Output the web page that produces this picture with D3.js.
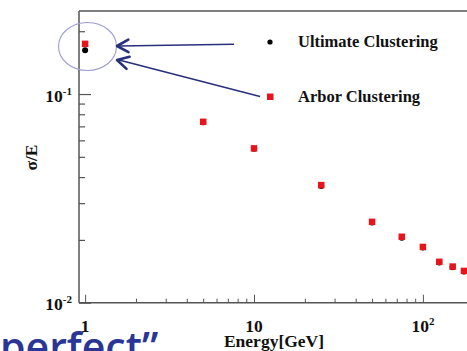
<!DOCTYPE html>
<html>
<head>
<meta charset="utf-8">
<script src="https://cdn.jsdelivr.net/npm/d3@7"></script>
<style>
  html, body { margin: 0; padding: 0; background: #fff; overflow: hidden; }
  svg { display: block; }
  .serif { font-family: "Liberation Serif", "Times New Roman", serif; font-weight: bold; fill: #111; }
</style>
</head>
<body>
<div id="chart"></div>
<script>
// energias do feixe (GeV) e resolução sigma/E
const energias = [1, 5, 10, 25, 50, 75, 100, 125, 150, 175];
const arborValores = [0.174, 0.0736, 0.0549, 0.0366, 0.0244, 0.0207, 0.0185, 0.0157, 0.0149, 0.0142];
const ultimateValores = [0.162, 0.0732, 0.0546, 0.0362, 0.0242, 0.0205, 0.0184, 0.0156, 0.0148, 0.0141];

const xMajor = [1, 10, 100];
const xMinor = [2, 3, 4, 5, 6, 7, 8, 9, 20, 30, 40, 50, 60, 70, 80, 90, 200];
const yMajor = [0.01, 0.1];
const yMinor = [0.02, 0.03, 0.04, 0.05, 0.06, 0.07, 0.08, 0.09, 0.2];
const xRotulos = [["1", ""], ["10", ""], ["10", "2"]];
const yRotulos = [["10", "-2"], ["10", "-1"]];
const legendaSeries = ["Ultimate Clustering", "Arbor Clustering"];

const largura = 467, altura = 351;
const esq = 79, topo = 11, base = 302.7, dir = 484;

const svg = d3.select("#chart").append("svg")
  .attr("width", largura).attr("height", altura);

const x = d3.scaleLog().domain([0.92, 230]).range([esq, dir]);
const y = d3.scaleLog().domain([0.01, 0.25]).range([base, topo]);

const corEixo = "#555";

// moldura (topo)
svg.append("line").attr("x1", esq).attr("x2", dir).attr("y1", topo).attr("y2", topo)
  .attr("stroke", corEixo).attr("stroke-width", 1.5);

// eixo X — ticks para dentro
const gx = svg.append("g").attr("transform", `translate(0,${base})`);
gx.call(d3.axisBottom(x).tickValues(xMajor).tickSize(-8).tickFormat(""));
gx.append("g").call(d3.axisBottom(x).tickValues(xMinor).tickSize(-4).tickFormat(""));
gx.selectAll(".domain").remove();
gx.selectAll("line").attr("stroke", corEixo).attr("stroke-width", 1);
svg.append("line").attr("x1", esq).attr("x2", dir).attr("y1", base).attr("y2", base)
  .attr("stroke", corEixo).attr("stroke-width", 1.5);

// eixo Y
const gy = svg.append("g").attr("transform", `translate(${esq},0)`);
gy.call(d3.axisLeft(y).tickValues(yMajor).tickSize(-12).tickFormat(""));
gy.append("g").call(d3.axisLeft(y).tickValues(yMinor).tickSize(-6).tickFormat(""));
gy.selectAll(".domain").remove();
gy.selectAll("line").attr("stroke", corEixo).attr("stroke-width", 1.2);
svg.append("line").attr("x1", esq).attr("x2", esq).attr("y1", topo).attr("y2", base)
  .attr("stroke", corEixo).attr("stroke-width", 1.5);

// rótulos com expoente
function rotulo(sel, [b, e]) {
  sel.append("tspan").text(b);
  if (e) sel.append("tspan").attr("dy", -7).attr("font-size", 11).text(e);
}
xMajor.forEach((v, i) => {
  svg.append("text").attr("class", "serif").attr("font-size", 17.5)
    .attr("x", x(v)).attr("y", 332).attr("text-anchor", "middle")
    .call(rotulo, xRotulos[i]);
});
yMajor.forEach((v, i) => {
  svg.append("text").attr("class", "serif").attr("font-size", 17.5)
    .attr("x", 72).attr("y", y(v) + 7.5).attr("text-anchor", "end")
    .call(rotulo, yRotulos[i]);
});

svg.append("text").attr("class", "serif").attr("font-size", 17.5)
  .attr("x", 274).attr("y", 346.5).attr("text-anchor", "middle").text("Energy[GeV]");
svg.append("text").attr("class", "serif").attr("font-size", 17.5)
  .attr("transform", "translate(37,157.5) rotate(-90)")
  .attr("text-anchor", "middle").text("σ/E");

// pontos: Ultimate (preto, círculo) por baixo, Arbor (vermelho, quadrado) por cima
svg.append("g").selectAll("circle").data(energias).join("circle")
  .attr("cx", d => x(d)).attr("cy", (d, i) => y(ultimateValores[i]))
  .attr("r", 3).attr("fill", "#000");
const lado = 6.5;
svg.append("g").selectAll("rect").data(energias).join("rect")
  .attr("x", d => x(d) - lado / 2).attr("y", (d, i) => y(arborValores[i]) - lado / 2)
  .attr("width", lado).attr("height", lado).attr("fill", "#e8141c");

// legenda
svg.append("circle").attr("cx", 270).attr("cy", 42).attr("r", 2.6).attr("fill", "#000");
svg.append("rect").attr("x", 267).attr("y", 93.5).attr("width", 6.5).attr("height", 6.5).attr("fill", "#e8141c");
svg.append("text").attr("class", "serif").attr("font-size", 16.5)
  .attr("x", 298).attr("y", 47).text(legendaSeries[0]);
svg.append("text").attr("class", "serif").attr("font-size", 16.5)
  .attr("x", 298).attr("y", 101.5).text(legendaSeries[1]);

// anotação: elipse + setas
svg.append("ellipse").attr("cx", 87.5).attr("cy", 46.5).attr("rx", 29).attr("ry", 24)
  .attr("fill", "none").attr("stroke", "#9c9cd2").attr("stroke-width", 1.1);

const corSeta = "#28307c";
function seta(x0, y0, x1, y1) {
  svg.append("line").attr("x1", x0).attr("y1", y0).attr("x2", x1 + 2).attr("y2", y1)
    .attr("stroke", corSeta).attr("stroke-width", 1.6);
  const ang = Math.atan2(y0 - y1, x0 - x1);
  const L = 13, a = 0.5;
  const p1 = [x1 + L * Math.cos(ang - a), y1 + L * Math.sin(ang - a)];
  const p2 = [x1 + L * Math.cos(ang + a), y1 + L * Math.sin(ang + a)];
  svg.append("path").attr("d", `M${p1}L${x1},${y1}L${p2}`)
    .attr("fill", "none").attr("stroke", corSeta).attr("stroke-width", 2.6)
    .attr("stroke-linecap", "round").attr("stroke-linejoin", "round");
}
seta(234, 44.3, 117, 46);
seta(260, 96.5, 117, 60);

// texto do slide cortado na parte de baixo
svg.append("text").attr("x", 0).attr("y", 362)
  .attr("font-family", "'Open Sans', 'Noto Sans', sans-serif").attr("font-size", 41)
  .attr("font-weight", 600).attr("fill", "#2a3596").text("perfect”");
</script>
</body>
</html>
